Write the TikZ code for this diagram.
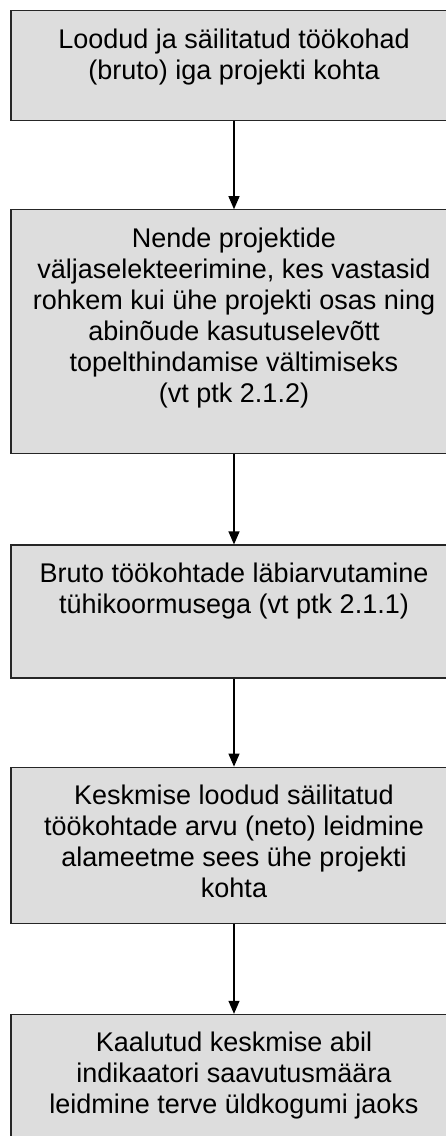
\documentclass[tikz,border=0pt]{standalone}
\usepackage{fontspec}
\setmainfont{Liberation Sans}
\usetikzlibrary{arrows.meta, positioning}
\definecolor{boxgray}{RGB}{221,221,221}
\tikzset{stepbox/.style={draw=black!85, fill=boxgray, line width=1.2pt, inner sep=0pt,
    minimum width=446pt, font=\fontsize{27}{31}\selectfont}}
\newcommand{\boxtext}[2]{\parbox[t][#1][t]{440pt}{\centering\vspace*{18pt}#2}}

\begin{document}
\begin{tikzpicture}[x=1pt, y=1pt, >={Triangle[length=13pt,width=11pt]}, line width=1.2pt]
    \useasboundingbox (0,0) rectangle (445,-1136);

    \node[stepbox, anchor=north] (b1) at (234,-10)
      {\boxtext{110pt}{Loodud ja säilitatud töökohad\\ (bruto) iga projekti kohta}};

    \node[stepbox, below=88pt of b1] (b2)
      {\boxtext{244pt}{Nende projektide\\ väljaselekteerimine, kes vastasid\\
        rohkem kui ühe projekti osas ning\\ abinõude kasutuselevõtt\\
        topelthindamise vältimiseks\\ (vt ptk 2.1.2)}};

    \node[stepbox, below=90pt of b2] (b3)
      {\boxtext{133pt}{Bruto töökohtade läbiarvutamine\\ tühikoormusega (vt ptk 2.1.1)}};

    \node[stepbox, below=88pt of b3] (b4)
      {\boxtext{156pt}{Keskmise loodud säilitatud\\ töökohtade arvu (neto) leidmine\\
        alameetme sees ühe projekti\\ kohta}};

    \node[stepbox, below=90pt of b4] (b5)
      {\boxtext{150pt}{Kaalutud keskmise abil\\ indikaatori saavutusmäära\\
        leidmine terve üldkogumi jaoks}};

    \draw[->] (b1) -- (b2);
    \draw[->] (b2) -- (b3);
    \draw[->] (b3) -- (b4);
    \draw[->] (b4) -- (b5);
\end{tikzpicture}
\end{document}
